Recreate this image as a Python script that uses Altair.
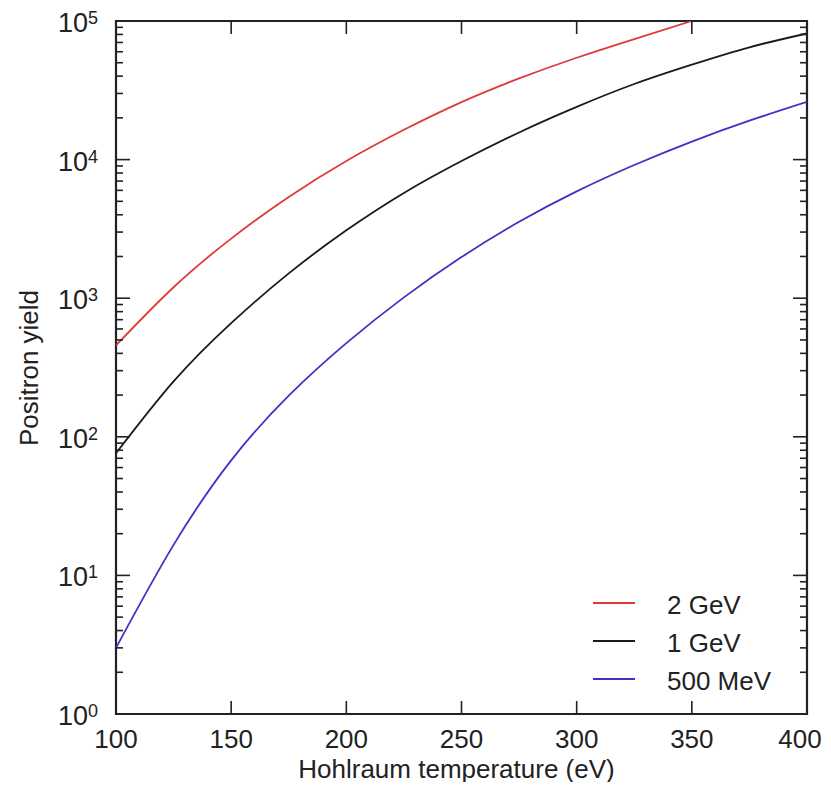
import altair as alt
import pandas as pd

# ---- data ----
temps = [100, 125, 150, 175, 200, 225, 250, 275, 300, 325, 350, 375, 400]
yield_2gev = [457, 1200, 2690, 5370, 9770, 16400, 26000, 38500, 54300, 74100, 100000]
yield_1gev = [76, 251, 661, 1510, 3090, 5750, 9770, 15700, 24000, 35100, 48400, 64600, 81300]
yield_500mev = [3.0, 16.6, 67.6, 198, 474, 1014, 1980, 3560, 5900, 9140, 13500, 19100, 26100]

series_names = ["2 GeV", "1 GeV", "500 MeV"]
series_colors = ["#e0393b", "#1a1a1a", "#4a2cc4"]

x_ticks = [100, 150, 200, 250, 300, 350, 400]
x_tick_labels = ["100", "150", "200", "250", "300", "350", "400"]
decades = [1, 10, 100, 1000, 10000, 100000]
exponents = ["0", "1", "2", "3", "4", "5"]
minor_ticks = [k * d for d in decades[:-1] for k in range(2, 10)]

W, H = 691, 693
FONT = "Liberation Sans"
TXT = "#222222"

rows = []
for name, ys in zip(series_names, [yield_2gev, yield_1gev, yield_500mev]):
    for t, v in zip(temps, ys):
        rows.append({"series": name, "T": t, "Y": v})
df = pd.DataFrame(rows)

xs = alt.Scale(domain=[100, 400], zero=False, nice=False)
ys = alt.Scale(type="log", domain=[1, 100000], nice=False)

lines = alt.Chart(df).mark_line(strokeWidth=1.8, interpolate="natural", clip=True).encode(
    x=alt.X("T:Q", scale=xs,
            axis=alt.Axis(values=x_ticks, title="Hohlraum temperature (eV)", labels=False, domain=False,
                          ticks=False, grid=False, titleFont=FONT, titleFontSize=26,
                          titleFontWeight="normal", titleColor=TXT, titleX=340, titleY=63,
                          titleBaseline="alphabetic")),
    y=alt.Y("Y:Q", scale=ys,
            axis=alt.Axis(title="Positron yield", labels=False, domain=False, ticks=False, grid=False,
                          titleFont=FONT, titleFontSize=26, titleFontWeight="normal", titleColor=TXT,
                          titleX=-79, titleY=H / 2, titleBaseline="alphabetic")),
    color=alt.Color("series:N", scale=alt.Scale(domain=series_names, range=series_colors), legend=None),
    detail="series:N",
)

xt = pd.DataFrame({"T": x_ticks, "lab": x_tick_labels})
ymaj = pd.DataFrame({"Y": decades, "e": exponents, "base": ["10"] * len(decades)})
ymin = pd.DataFrame({"Y": minor_ticks})

tick_style = dict(color="#222222", strokeWidth=1.6)
xb = alt.Chart(xt).mark_rule(**tick_style).encode(x=alt.X("T:Q", scale=xs), y=alt.value(H), y2=alt.value(H - 13))
xtp = alt.Chart(xt).mark_rule(**tick_style).encode(x=alt.X("T:Q", scale=xs), y=alt.value(0), y2=alt.value(13))
yl = alt.Chart(ymaj).mark_rule(**tick_style).encode(y=alt.Y("Y:Q", scale=ys), x=alt.value(0), x2=alt.value(14))
yr = alt.Chart(ymaj).mark_rule(**tick_style).encode(y=alt.Y("Y:Q", scale=ys), x=alt.value(W), x2=alt.value(W - 14))
yml = alt.Chart(ymin).mark_rule(**tick_style).encode(y=alt.Y("Y:Q", scale=ys), x=alt.value(0), x2=alt.value(7))
ymr = alt.Chart(ymin).mark_rule(**tick_style).encode(y=alt.Y("Y:Q", scale=ys), x=alt.value(W), x2=alt.value(W - 7))

xt_main = xt.iloc[:-1]
xt_last = xt.iloc[-1:]
xlab = alt.Chart(xt_main).mark_text(align="center", baseline="alphabetic", font=FONT, fontSize=26,
                                    color=TXT).encode(
    x=alt.X("T:Q", scale=xs), y=alt.value(H + 34), text="lab:N")
xlab_last = alt.Chart(xt_last).mark_text(align="center", baseline="alphabetic", font=FONT, fontSize=26,
                                         color=TXT, dx=-7).encode(
    x=alt.X("T:Q", scale=xs), y=alt.value(H + 34), text="lab:N")

lab10 = alt.Chart(ymaj).mark_text(align="right", baseline="alphabetic", dy=11, dx=-28, font=FONT,
                                  fontSize=27, color=TXT).encode(
    y=alt.Y("Y:Q", scale=ys), x=alt.value(0), text="base:N")
labexp = alt.Chart(ymaj).mark_text(align="left", baseline="alphabetic", dy=3, dx=-28, font=FONT,
                                   fontSize=18, color=TXT).encode(
    y=alt.Y("Y:Q", scale=ys), x=alt.value(0), text="e:N")

# legend
leg_layers = []
for i, (name, col) in enumerate(zip(series_names, series_colors)):
    yy = 582 + 38 * i
    leg_df = pd.DataFrame({"label": [name]})
    leg_layers.append(alt.Chart(leg_df).mark_rule(color=col, strokeWidth=1.8).encode(
        x=alt.value(477), x2=alt.value(519), y=alt.value(yy)))
    leg_layers.append(alt.Chart(leg_df).mark_text(align="left", baseline="alphabetic", font=FONT,
                                                  fontSize=26, color=TXT).encode(
        x=alt.value(551), y=alt.value(yy + 11), text="label:N"))

chart = alt.layer(lines, xb, xtp, yl, yr, yml, ymr, xlab, xlab_last, lab10, labexp, *leg_layers).properties(
    width=W, height=H,
    background="white",
    autosize=alt.AutoSizeParams(type="none"),
    padding={"left": 108, "top": 13, "right": 16, "bottom": 68},
).configure_view(stroke="#222222", strokeWidth=2.2)

chart.save("out.html", embed_options={"renderer": "svg", "actions": False})
